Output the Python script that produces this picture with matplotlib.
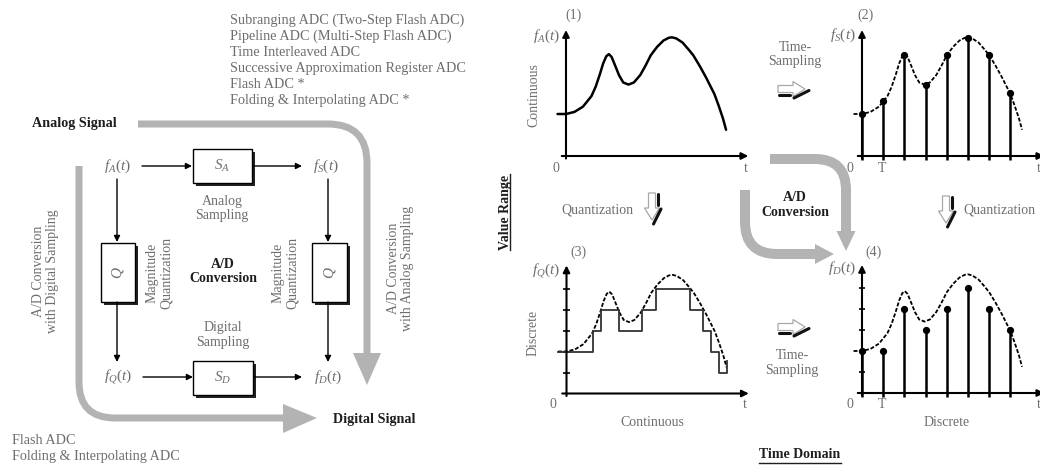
import matplotlib
matplotlib.use('Agg')
import matplotlib.pyplot as plt
from matplotlib.path import Path
from matplotlib.patches import PathPatch, Polygon, Rectangle

# ---------------- data (time in units of T, value in quantization levels) ----------
curve_t = [-0.4, 0.0, 0.4, 0.8, 1.0, 1.2, 1.4, 1.6, 1.75, 1.9, 2.02, 2.15, 2.3, 2.5,
           2.7, 2.95, 3.2, 3.5, 3.75, 4.0, 4.3, 4.6, 4.85, 5.0, 5.2, 5.5, 5.8, 6.0,
           6.3, 6.6, 6.85, 7.0, 7.2, 7.4, 7.55]
curve_v = [2.0, 2.0, 2.1, 2.35, 2.6, 2.85, 3.3, 3.9, 4.4, 4.75, 4.85, 4.72, 4.35, 3.85,
           3.5, 3.4, 3.5, 3.85, 4.3, 4.8, 5.2, 5.5, 5.63, 5.65, 5.6, 5.4, 5.05, 4.8,
           4.3, 3.75, 3.25, 2.95, 2.4, 1.8, 1.25]
sample_n = [0, 1, 2, 3, 4, 5, 6, 7]
sample_v = [2.0, 2.6, 4.8, 3.4, 4.8, 5.6, 4.8, 3.0]
quant_v = [2, 2, 4, 3, 4, 5, 4, 3]
stair_t = [-0.4, 1.24, 1.65, 2.49, 3.58, 4.2, 5.84, 6.43, 6.82, 7.21, 7.55, 7.55]
stair_v = [2, 3, 4, 3, 4, 5, 4, 3, 2, 1, 1, 1.55]
levels = [1, 2, 3, 4, 5]

adc_top = ["Subranging ADC (Two-Step Flash ADC)",
           "Pipeline ADC (Multi-Step Flash ADC)",
           "Time Interleaved ADC",
           "Successive Approximation Register ADC",
           "Flash ADC *",
           "Folding & Interpolating ADC *"]
adc_bottom = ["Flash ADC", "Folding & Interpolating ADC"]

# ---------------- style ----------------
plt.rcParams['font.family'] = ['Liberation Serif', 'DejaVu Serif']
plt.rcParams['mathtext.fontset'] = 'custom'
plt.rcParams['mathtext.rm'] = 'Liberation Serif'
plt.rcParams['mathtext.it'] = 'Liberation Serif:italic'
plt.rcParams['mathtext.bf'] = 'Liberation Serif:bold'

W, H = 1040, 466
GRAY = '#6e6e6e'
DARK = '#1e1e1e'
ARROW_GRAY = '#b3b3b3'

fig = plt.figure(figsize=(W / 100, H / 100), dpi=100)
ax = fig.add_axes([0, 0, 1, 1])
ax.set_xlim(0, W)
ax.set_ylim(H, 0)
ax.axis('off')

FS = 10


def txt(x, y, s, size=FS, color=GRAY, ha='center', va='center', weight='normal',
        rot=0, ls=1.15, style='normal'):
    return ax.text(x, y, s, fontsize=size, color=color, ha=ha, va=va, fontweight=weight,
                   rotation=rot, linespacing=ls, multialignment='center', fontstyle=style)


def line_arrow(x0, y0, x1, y1):
    ax.annotate('', xy=(x1, y1), xytext=(x0, y0),
                arrowprops=dict(arrowstyle='-|>', color='black', lw=1.0,
                                mutation_scale=9, shrinkA=0, shrinkB=0))


def box(x0, y0, x1, y1, label, rot=0):
    ax.add_patch(Rectangle((x0 + 2.5, y0 + 2.5), x1 - x0, y1 - y0, facecolor='#222',
                           edgecolor='none'))
    ax.add_patch(Rectangle((x0, y0), x1 - x0, y1 - y0, facecolor='white',
                           edgecolor='black', lw=1.0))
    txt((x0 + x1) / 2, (y0 + y1) / 2, label, size=11, rot=rot)


def thick_arrow(verts, codes, head, lw_px):
    ax.add_patch(PathPatch(Path(verts, codes), fill=False, lw=lw_px * 0.72,
                           edgecolor=ARROW_GRAY, capstyle='butt', joinstyle='round'))
    ax.add_patch(Polygon(head, closed=True, facecolor=ARROW_GRAY, edgecolor='none'))


def icon(x0, y0, direction):
    hollow = [(0, -3.5), (15, -3.5), (15, -7.5), (27, 0), (15, 7.5), (15, 3.5), (0, 3.5)]
    strokes = [[(1, 5.5), (12, 5.5)], [(16, 9), (31, 1.5)]]
    if direction == 'right':
        f = lambda u, w: (x0 + u, y0 + w)
    else:
        f = lambda u, w: (x0 + w, y0 + u)
    ax.add_patch(Polygon([f(u, w) for u, w in hollow], closed=True, facecolor='white',
                         edgecolor='#a8a8a8', lw=0.9))
    for st in strokes:
        p = [f(u, w) for u, w in st]
        ax.plot([p[0][0], p[1][0]], [p[0][1], p[1][1]], color='#111', lw=2.2,
                solid_capstyle='round')


# ---------------- left block diagram ----------------
for i, s in enumerate(adc_top):
    txt(230, 20.7 + 15.9 * i, s, ha='left', size=10.3)
for i, s in enumerate(adc_bottom):
    txt(12, 440 + 16.5 * i, s, ha='left', size=10.2)

txt(32, 124, 'Analog Signal', color=DARK, ha='left', weight='bold', size=10.2)
txt(333, 419, 'Digital Signal', color=DARK, ha='left', weight='bold', size=10.2)

M, L, C3 = Path.MOVETO, Path.LINETO, Path.CURVE3
thick_arrow([(138, 124), (328, 124), (367, 124), (367, 163), (367, 354)],
            [M, L, C3, C3, L], [(353, 353), (381, 353), (367, 385)], 7)
thick_arrow([(79, 166), (79, 382), (79, 418), (115, 418), (284, 418)],
            [M, L, C3, C3, L], [(283, 404), (283, 433), (317, 418)], 7)

txt(117, 166, r'$f_A(t)$', size=11)
txt(326, 166, r'$f_S(t)$', size=11)
txt(118, 377, r'$f_Q(t)$', size=11)
txt(328, 377, r'$f_D(t)$', size=11)

box(193, 149, 252, 183, r'$S_A$')
box(193, 361, 253, 395, r'$S_D$')
box(101, 243, 135, 302, r'$Q$', rot=90)
box(312, 243, 347, 302, r'$Q$', rot=90)

line_arrow(142, 166, 192, 166)
line_arrow(253, 166, 302, 166)
line_arrow(117, 179, 117, 242)
line_arrow(117, 302, 117, 362)
line_arrow(143, 377, 193, 377)
line_arrow(254, 377, 302, 377)
line_arrow(328, 179, 328, 242)
line_arrow(328, 302, 328, 362)

txt(222, 208.5, 'Analog\nSampling')
txt(223, 335, 'Digital\nSampling')
txt(223, 271.5, 'A/D\nConversion', color=DARK, weight='bold')
txt(159.5, 273, 'Magnitude\nQuantization', rot=90)
txt(285.5, 273, 'Magnitude\nQuantization', rot=90)
txt(45.5, 271, 'A/D Conversion\nwith Digital Sampling', rot=90)
txt(400.5, 268, 'A/D Conversion\nwith Analog Sampling', rot=90)

# ---------------- right: four panels ----------------
T_PX, L_PX = 21.2, 21.0


def panel(x0, y0, tmin=-1.2, tmax=9.2, vmin=-1.2, vmax=6.6):
    left = x0 + tmin * T_PX
    right = x0 + tmax * T_PX
    bot = y0 - vmin * L_PX
    top = y0 - vmax * L_PX
    a = fig.add_axes([left / W, 1 - bot / H, (right - left) / W, (bot - top) / H])
    a.set_xlim(tmin, tmax)
    a.set_ylim(vmin, vmax)
    a.axis('off')
    a.patch.set_alpha(0)
    return a


def axes_arrows(a, ytop):
    a.annotate('', xy=(8.6, 0), xytext=(-0.2, 0),
               arrowprops=dict(arrowstyle='-|>', color='black', lw=1.5,
                               mutation_scale=10, shrinkA=0, shrinkB=0))
    a.annotate('', xy=(0, ytop), xytext=(0, -0.12),
               arrowprops=dict(arrowstyle='-|>', color='black', lw=1.5,
                               mutation_scale=10, shrinkA=0, shrinkB=0))


DASH = (0, (2.2, 1.0))

# (1) continuous
a1 = panel(566, 156)
axes_arrows(a1, 6.0)
a1.plot(curve_t, curve_v, color='black', lw=1.8, solid_capstyle='round')

# (2) time sampled
a2 = panel(862, 156)
axes_arrows(a2, 6.0)
a2.plot(curve_t, curve_v, color='black', lw=1.3, ls=DASH)
a2.vlines(sample_n, -0.18, sample_v, color='black', lw=1.8)
a2.plot(sample_n, sample_v, 'o', color='black', ms=4.2)

# (3) quantized
a3 = panel(566.5, 393.5)
axes_arrows(a3, 6.1)
a3.hlines(levels, -0.16, 0.16, color='black', lw=1.2)
a3.plot(curve_t, curve_v, color='black', lw=1.3, ls=DASH)
a3.plot(stair_t, stair_v, color='#333', lw=1.3, drawstyle='steps-post')

# (4) digital
a4 = panel(862, 393)
axes_arrows(a4, 6.1)
a4.hlines(levels, -0.16, 0.16, color='black', lw=1.2)
a4.plot(curve_t, curve_v, color='black', lw=1.3, ls=DASH)
a4.vlines(sample_n, -0.18, quant_v, color='black', lw=1.8)
a4.plot(sample_n, quant_v, 'o', color='black', ms=4.2)

# panel labels
txt(573, 15, '(1)')
txt(866, 15, '(2)')
txt(578, 252, '(3)')
txt(873, 252, '(4)')
txt(560, 36, r'$f_A(t)$', ha='right', size=11)
txt(856, 35, r'$f_S(t)$', ha='right', size=11)
txt(560, 271, r'$f_Q(t)$', ha='right', size=11)
txt(856, 268, r'$f_D(t)$', ha='right', size=11)
txt(534, 95, 'Continuous', rot=90)
txt(533, 333, 'Discrete', rot=90)
for (zx, tx, yy) in [(556, 746, 168), (553, 745, 405)]:
    txt(zx, yy, '0')
    txt(tx, yy, 't')
for yy in (168, 405):
    txt(850, yy, '0')
    txt(882.5, yy, 'T')
    txt(1039, yy, 't')
txt(652, 423, 'Continuous')
txt(947, 423, 'Discrete')

# middle gray A/D arrows
thick_arrow([(770, 159), (815, 159), (846, 159), (846, 190), (846, 232)],
            [M, L, C3, C3, L], [(836.5, 231), (855.5, 231), (846, 251)], 10)
thick_arrow([(745, 190), (745, 222), (745, 254), (777, 254), (816, 254)],
            [M, L, C3, C3, L], [(815, 244), (815, 264), (834, 254)], 10)
txt(795, 205, 'A/D\nConversion', color=DARK, weight='bold')

# process icons and labels
txt(795, 54.5, 'Time-\nSampling')
icon(778, 89, 'right')
txt(792, 363, 'Time-\nSampling')
icon(778, 327, 'right')
txt(633, 210, 'Quantization', ha='right')
icon(652, 193, 'down')
icon(946, 196, 'down')
txt(963, 210, 'Quantization', ha='left')

# underlined headings
t_time = txt(800, 455, 'Time Domain', color=DARK, weight='bold')
t_val = txt(505, 212, 'Value Range', color=DARK, weight='bold', rot=90)
fig.canvas.draw()
inv = ax.transData.inverted()
bb = t_time.get_window_extent()
(x0, y0), (x1, y1) = inv.transform([(bb.x0, bb.y0), (bb.x1, bb.y1)])
ax.plot([x0, x1], [y0 + 1.0, y0 + 1.0], color=DARK, lw=1.0)
bb = t_val.get_window_extent()
(x0, y0), (x1, y1) = inv.transform([(bb.x0, bb.y0), (bb.x1, bb.y1)])
ax.plot([x1 - 2.0, x1 - 2.0], [y0, y1], color=DARK, lw=1.0)

fig.savefig('out.png', dpi=100)
